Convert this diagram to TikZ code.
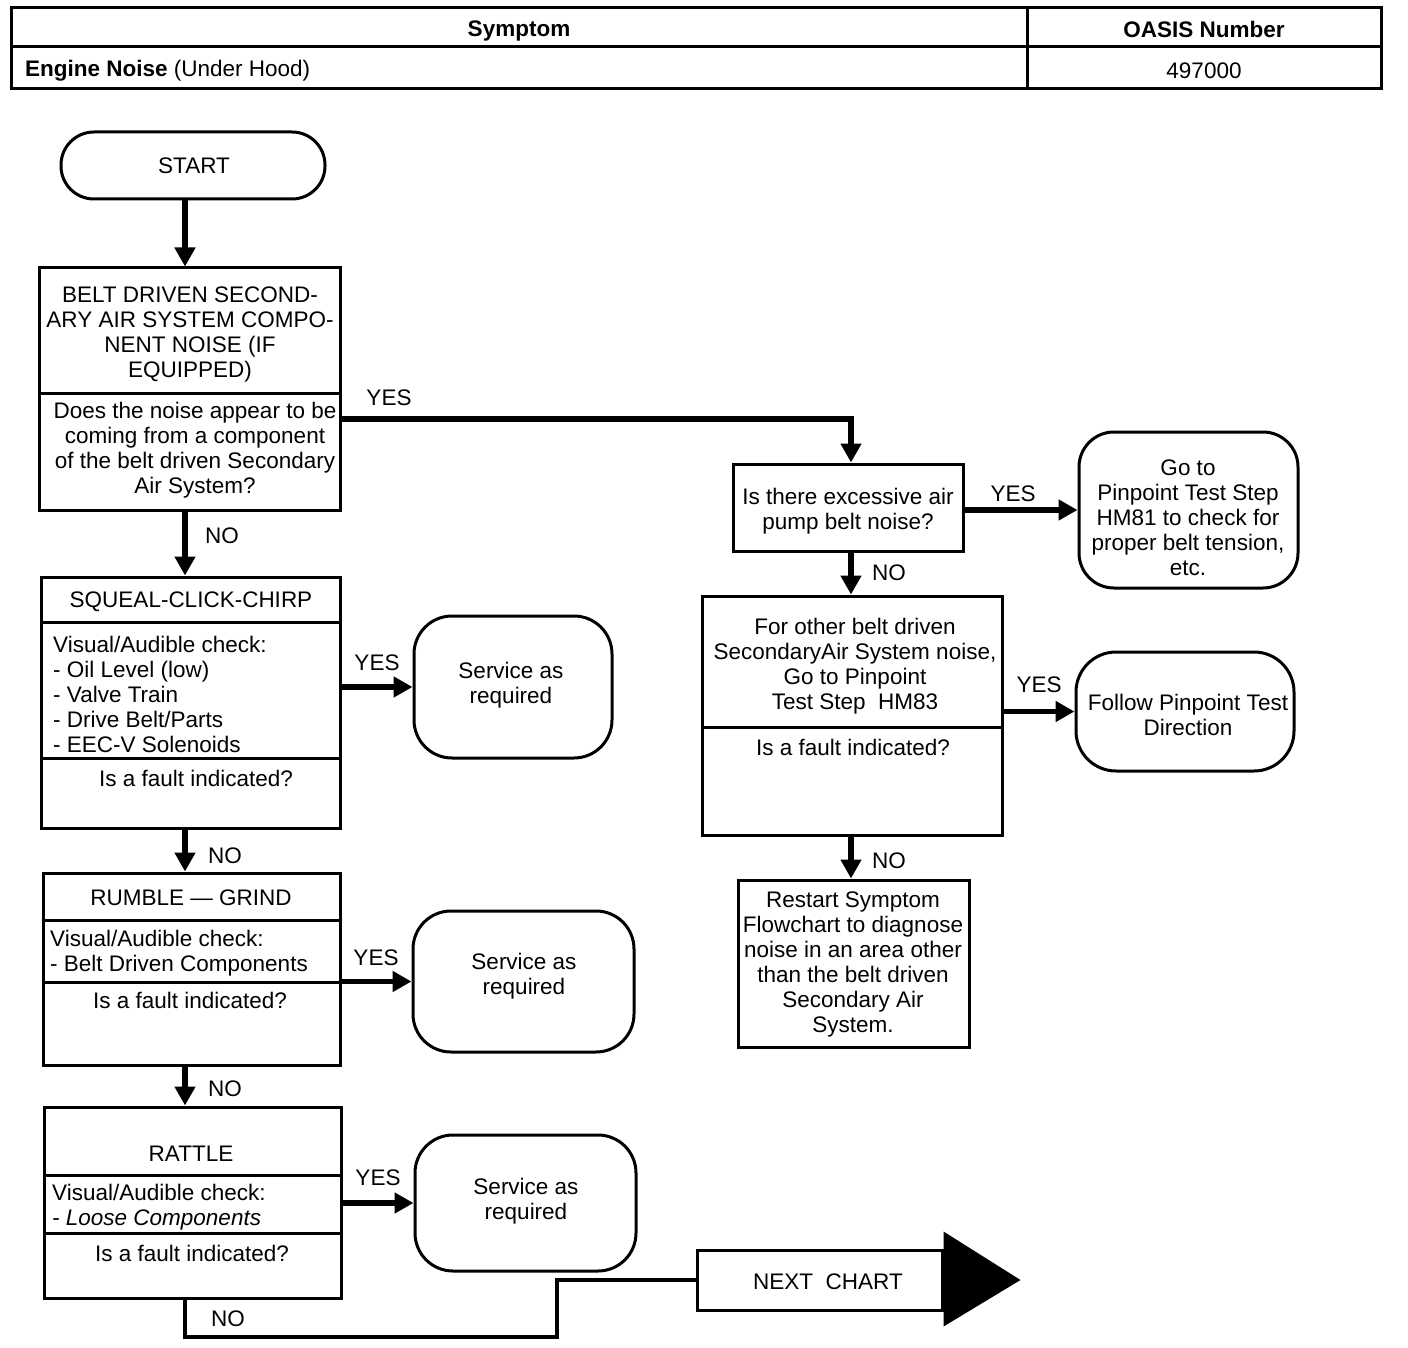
\documentclass[tikz,border=0pt]{standalone}
\usepackage{fontspec}
\setmainfont{Liberation Sans}
\usetikzlibrary{arrows.meta,calc}
\tikzset{
  box/.style={draw,line width=3pt,rectangle,inner sep=0pt},
  rbox/.style={box,rounded corners=#1},
  txt/.style={inner sep=0pt,align=center,font=\fontsize{22.5}{25}\selectfont},
  ltxt/.style={inner sep=0pt,align=left,anchor=west,font=\fontsize{22.5}{25}\selectfont},
  lbl/.style={inner sep=0pt,font=\fontsize{22.5}{25}\selectfont},
  arr/.style={line width=5.5pt,-{Triangle[length=19pt,width=20pt]}},
  div/.style={line width=3pt},
}
\begin{document}
\begin{tikzpicture}[x=1pt,y=-1pt]
\useasboundingbox (0,0) rectangle (1408,1348);
% header table
\node[box,minimum width=1370pt,minimum height=81pt] (hdr) at (696,48.5) {};
\draw[div] (11,47) -- (1381,47);
\draw[div] (1027,8) -- (1027,89);
\node[txt,font=\fontsize{22.5}{25}\selectfont\bfseries] (hsym) at (519,31) {Symptom};
\node[txt,font=\fontsize{22.5}{25}\selectfont\bfseries] (hoas) at (1204,29) {OASIS Number};
\node[ltxt] (heng) at (25,71) {\textbf{Engine Noise} (Under Hood)};
\node[txt] (hnum) at (1204,71) {497000};
% axes
\coordinate (axL) at (185,0);
\coordinate (axR) at (851,0);
\coordinate (yy) at (0,419);
\coordinate (c1) at (557,1337);
% start
\node[rbox=33pt,minimum width=264pt,minimum height=67pt] (start) at (193,165.5) {};
\node[txt] (tstart) at (194,166) {START};
% box 1
\node[box,minimum width=301pt,minimum height=242pt] (b1) at (189.5,389) {};
\draw[div] (39,393) -- (340,393);
\node[txt] (tb1a) at (190,334) {BELT DRIVEN SECOND-\\ARY AIR SYSTEM COMPO-\\NENT NOISE (IF\\EQUIPPED)};
\node[txt] (tb1b) at (195,450.5) {Does the noise appear to be\\coming from a component\\of the belt driven Secondary\\Air System?};
% q2
\node[box,minimum width=230pt,minimum height=87pt] (q2) at (848,507.5) {};
\node[txt] (tq2) at (848,511) {Is there excessive air\\pump belt noise?};
% goto
\node[rbox=35pt,minimum width=219pt,minimum height=156pt] (goto) at (1188.5,510) {};
\node[txt] (tgoto) at (1188,518) {Go to\\Pinpoint Test Step\\HM81 to check for\\proper belt tension,\\etc.};
% box 3
\node[box,minimum width=300pt,minimum height=239pt] (b3) at (852,715.5) {};
\draw[div] (702,727) -- (1002,727);
\node[txt] (tb3a) at (855,666) {For other belt driven\\SecondaryAir System noise,\\Go to Pinpoint\\Test Step\ \ HM83};
\node[txt] (tb3b) at (853,747) {Is a fault indicated?};
% follow
\node[rbox=40pt,minimum width=218pt,minimum height=119pt] (follow) at (1185,711.5) {};
\node[txt] (tfollow) at (1188,715) {Follow Pinpoint Test\\Direction};
% box 4
\node[box,minimum width=231pt,minimum height=167pt] (b4) at (853.5,963.5) {};
\node[txt] (tb4) at (853,964) {Restart Symptom\\Flowchart to diagnose\\noise in an area other\\than the belt driven\\Secondary Air\\System.};
% squeal
\node[box,minimum width=299pt,minimum height=251pt] (sq) at (190.5,702.5) {};
\draw[div] (41,622) -- (340,622);
\draw[div] (41,758) -- (340,758);
\node[txt] (tsqa) at (191,602) {SQUEAL-CLICK-CHIRP};
\node[ltxt] (tsqb) at (53,694) {Visual/Audible check:\\- Oil Level (low)\\- Valve Train\\- Drive Belt/Parts\\- EEC-V Solenoids};
\node[txt] (tsqc) at (196,778) {Is a fault indicated?};
\node[rbox=38pt,minimum width=198pt,minimum height=142pt] (s1) at (513,687) {};
\node[txt] (ts1) at (511,685.5) {Service as\\required};
% rumble
\node[box,minimum width=297pt,minimum height=192pt] (rg) at (191.5,969) {};
\draw[div] (43,920) -- (340,920);
\draw[div] (43,982) -- (340,982);
\node[txt] (trga) at (191,898) {RUMBLE --- GRIND};
\node[ltxt] (trgb) at (50,953.5) {Visual/Audible check:\\- Belt Driven Components};
\node[txt] (trgc) at (190,1000) {Is a fault indicated?};
\node[rbox=38pt,minimum width=221pt,minimum height=141pt] (s2) at (523.5,981.5) {};
\node[txt] (ts2) at (524,976.5) {Service as\\required};
% rattle
\node[box,minimum width=297pt,minimum height=191pt] (rat) at (192.5,1202.5) {};
\draw[div] (44,1175) -- (341,1175);
\draw[div] (44,1233) -- (341,1233);
\node[txt] (trata) at (191,1154) {RATTLE};
\node[ltxt] (tratb) at (52,1207.5) {Visual/Audible check:\\\textit{- Loose Components}};
\node[txt] (tratc) at (192,1253) {Is a fault indicated?};
\node[rbox=38pt,minimum width=221pt,minimum height=136pt] (s3) at (525.5,1203) {};
\node[txt] (ts3) at (526,1201) {Service as\\required};
% next chart
\node[box,minimum width=245pt,minimum height=60pt] (nc) at (819.5,1280) {};
\node[txt] (tnc) at (828,1282) {NEXT\ \ CHART};
\fill ($(nc.north east)+(0,-17)$) -- ($(nc.east)+(77,0)$) -- ($(nc.south east)+(0,15)$) -- cycle;
% connectors
\draw[arr] (start.south -| axL) -- (b1.north -| axL);
\draw[arr] (b1.south -| axL) -- (sq.north -| axL);
\draw[arr] (sq.south -| axL) -- (rg.north -| axL);
\draw[arr] (rg.south -| axL) -- (rat.north -| axL);
\draw[arr] (sq.east |- s1.west) -- (s1.west);
\draw[arr] (rg.east |- s2.west) -- (s2.west);
\draw[arr] (rat.east |- s3.west) -- (s3.west);
\draw[arr] (b1.east |- yy) -| (q2.north -| axR);
\draw[arr] (q2.east |- goto.west) -- (goto.west);
\draw[arr] (q2.south -| axR) -- (b3.north -| axR);
\draw[arr] (b3.east |- follow.west) -- (follow.west);
\draw[arr] (b3.south -| axR) -- (b4.north -| axR);
\draw[line width=4.5pt] (rat.south -| axL) |- (c1) |- (nc.west);
% labels
\node[lbl] (l1) at (389,398) {YES};
\node[lbl] (l2) at (1013,494) {YES};
\node[lbl] (l3) at (889,573) {NO};
\node[lbl] (l4) at (1039,685) {YES};
\node[lbl] (l5) at (889,861) {NO};
\node[lbl] (l6) at (222,536) {NO};
\node[lbl] (l7) at (377,663) {YES};
\node[lbl] (l8) at (225,856) {NO};
\node[lbl] (l9) at (376,958) {YES};
\node[lbl] (l10) at (225,1089) {NO};
\node[lbl] (l11) at (378,1178) {YES};
\node[lbl] (l12) at (228,1319) {NO};
\end{tikzpicture}
\end{document}
